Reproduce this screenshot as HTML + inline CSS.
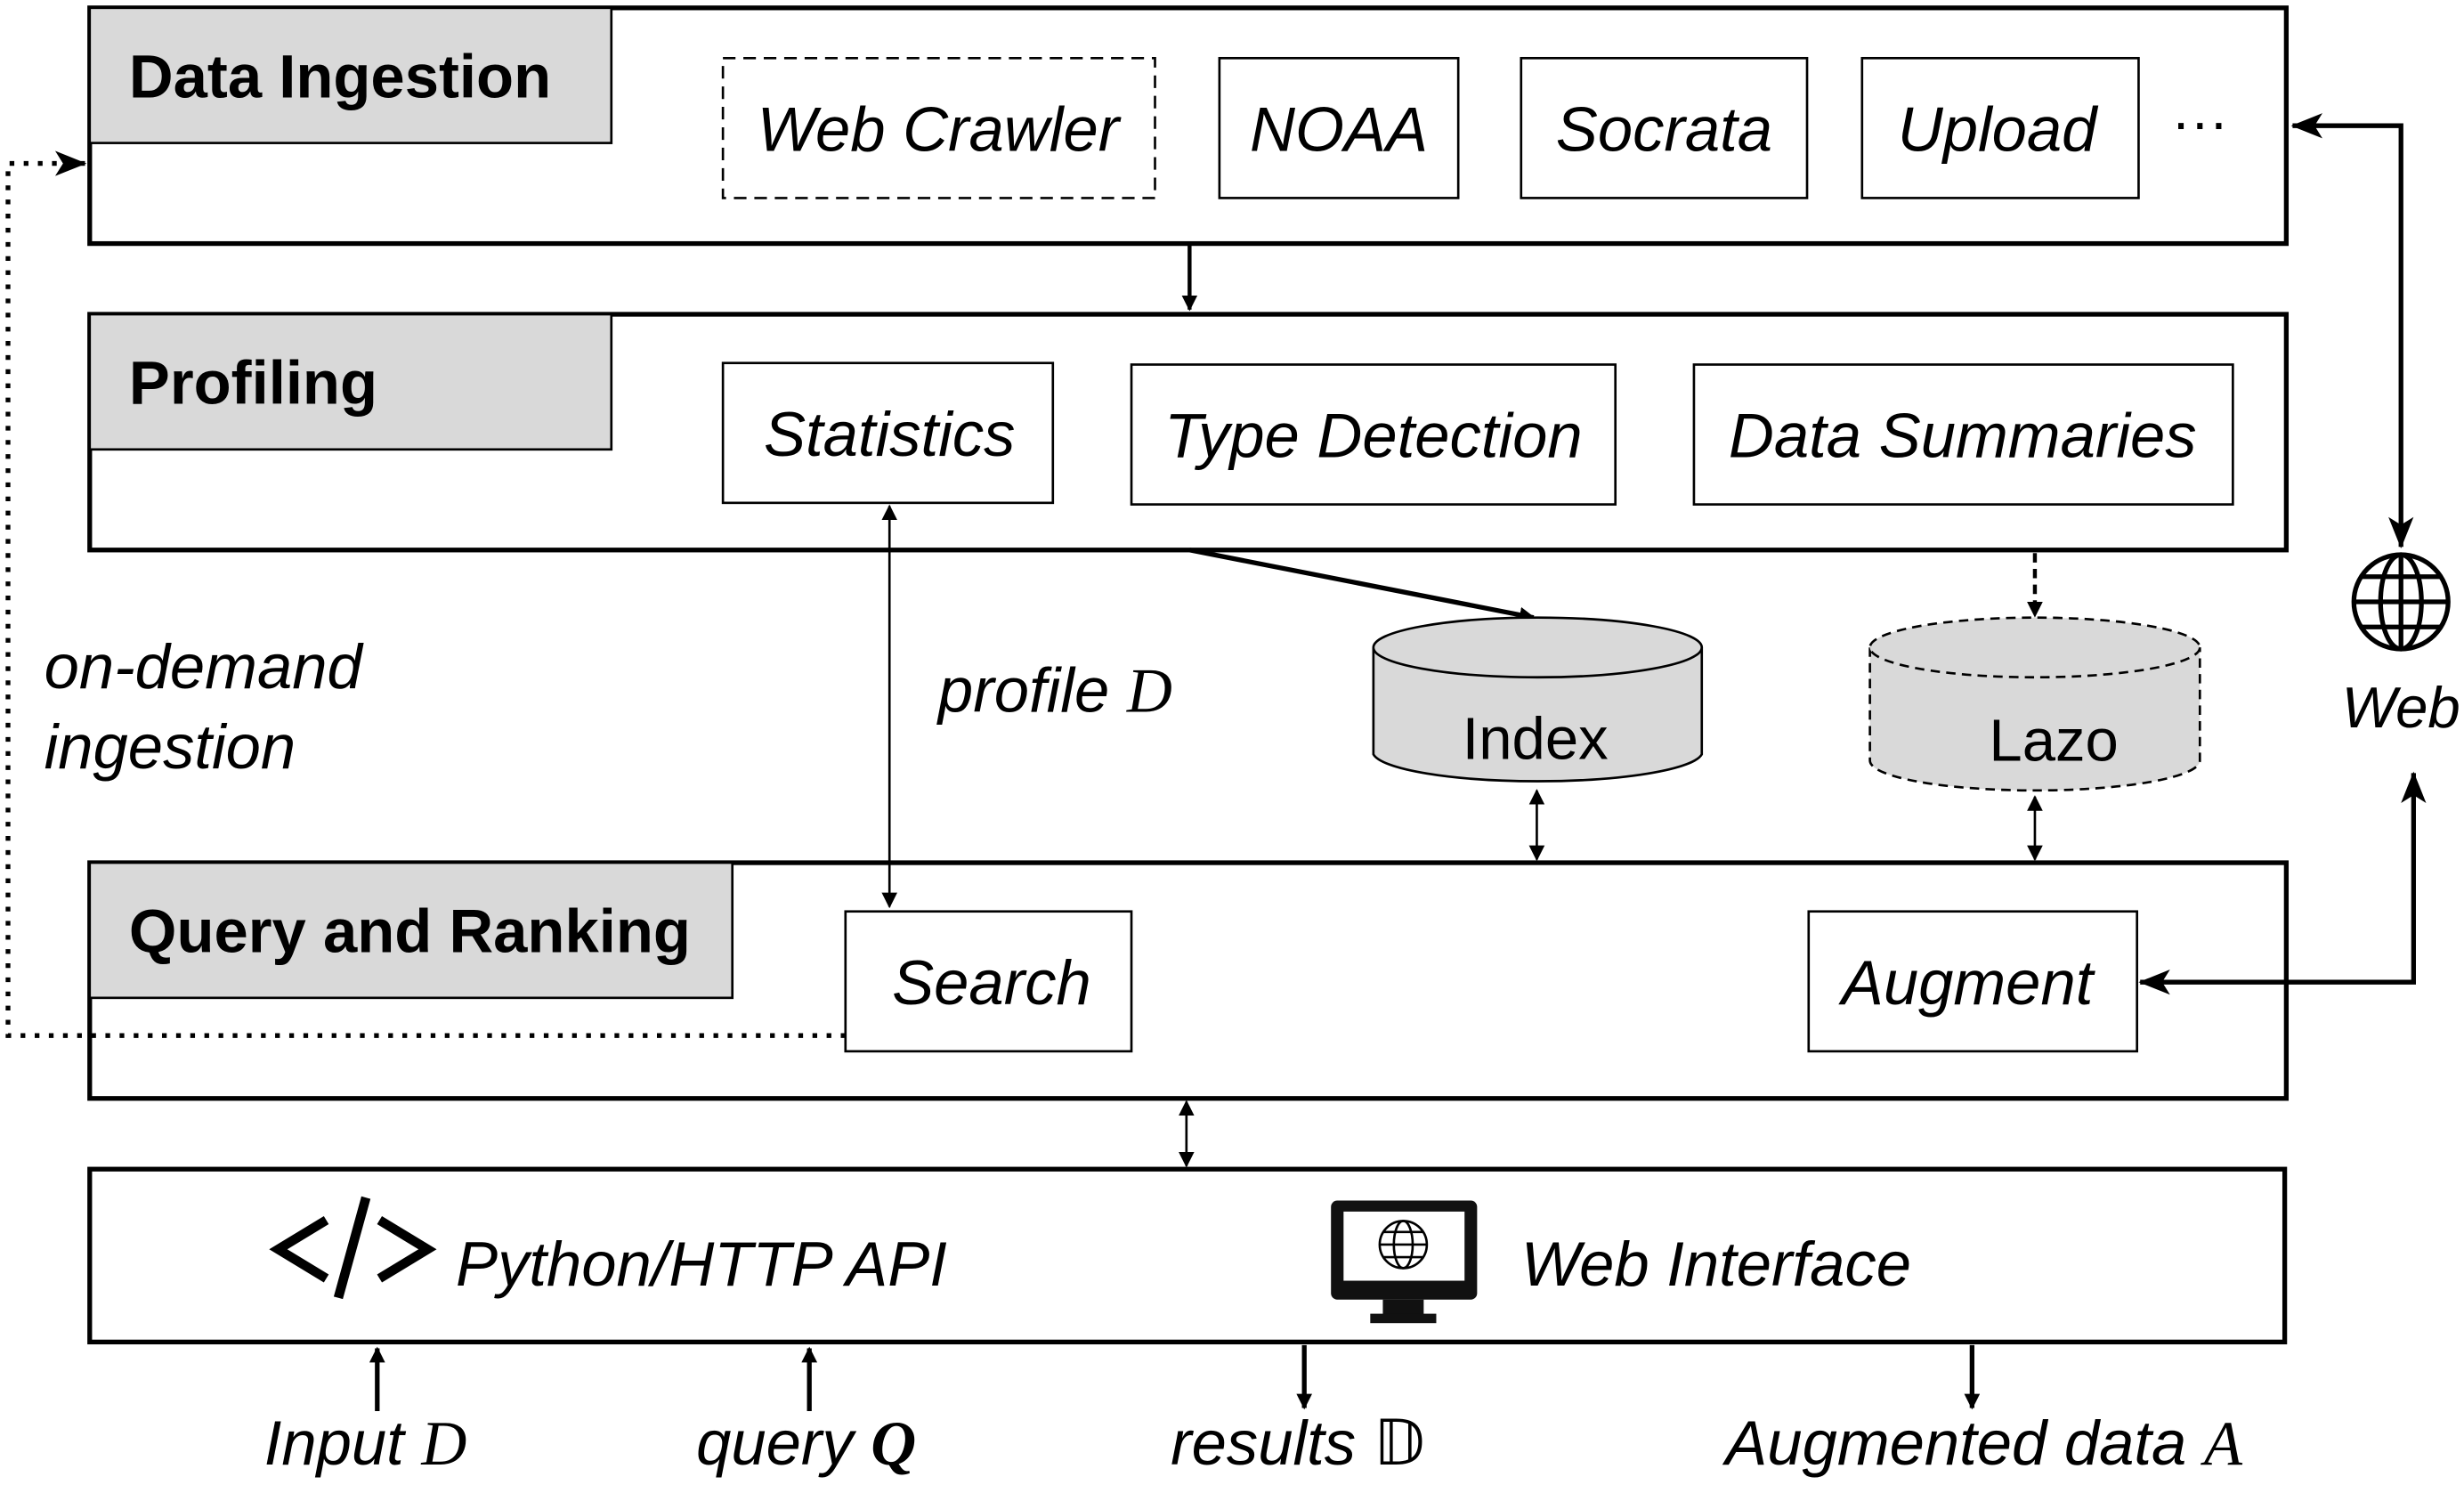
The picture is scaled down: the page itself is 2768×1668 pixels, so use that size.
<!DOCTYPE html>
<html><head><meta charset="utf-8"><style>html,body{margin:0;padding:0;background:#fff}svg{display:block}</style></head><body>
<svg width="2768" height="1668" viewBox="0 0 1568 945" xmlns="http://www.w3.org/2000/svg" font-family="Liberation Sans, sans-serif">
<defs>
<marker id="a" markerWidth="10" markerHeight="10" refX="9" refY="5" orient="auto-start-reverse" markerUnits="userSpaceOnUse"><path d="M0,0 L10,5 L0,10 Z" fill="#000"/></marker>
<marker id="al" markerWidth="20" markerHeight="16" refX="19" refY="8" orient="auto-start-reverse" markerUnits="userSpaceOnUse"><path d="M0,0 L20,8 L0,16 L5,8 Z" fill="#000"/></marker>
</defs>
<g fill="none" stroke="#000" stroke-width="3">
<rect x="57" y="5" width="1398" height="150"/>
<rect x="57" y="200" width="1398" height="150"/>
<rect x="57" y="549" width="1398" height="150"/>
<rect x="57" y="744" width="1397" height="110"/>
</g>
<g fill="#d9d9d9" stroke="#000" stroke-width="1.5">
<rect x="57" y="5" width="332" height="86"/>
<rect x="57" y="200" width="332" height="86"/>
<rect x="57" y="549" width="409" height="86"/>
</g>
<g font-weight="bold" font-size="39" fill="#000">
<text x="82" y="62">Data Ingestion</text>
<text x="82" y="257">Profiling</text>
<text x="82" y="606">Query and Ranking</text>
</g>
<g fill="#fff" stroke="#000" stroke-width="1.5">
<rect x="460" y="37" width="275" height="89" stroke-dasharray="8,5"/>
<rect x="776" y="37" width="152" height="89"/>
<rect x="968" y="37" width="182" height="89"/>
<rect x="1185" y="37" width="176" height="89"/>
<rect x="460" y="231" width="210" height="89"/>
<rect x="720" y="232" width="308" height="89"/>
<rect x="1078" y="232" width="343" height="89"/>
<rect x="538" y="580" width="182" height="89"/>
<rect x="1151" y="580" width="209" height="89"/>
</g>
<g font-style="italic" font-size="40" text-anchor="middle" fill="#000">
<text x="597" y="96">Web Crawler</text>
<text x="852" y="96">NOAA</text>
<text x="1059" y="96">Socrata</text>
<text x="1271" y="96">Upload</text>
<text x="566" y="290">Statistics</text>
<text x="874" y="291">Type Detection</text>
<text x="1249" y="291">Data Summaries</text>
<text x="631" y="639">Search</text>
<text x="1252" y="639">Augment</text>
</g>
<text x="1400" y="90" font-size="36" text-anchor="middle">···</text>
<g stroke="#000" fill="none">
<line x1="757" y1="155" x2="757" y2="197" stroke-width="2.5" marker-end="url(#a)"/>
<line x1="757" y1="350" x2="976" y2="393" stroke-width="3" marker-end="url(#a)"/>
<line x1="1295" y1="352" x2="1295" y2="392" stroke-width="2.5" stroke-dasharray="6,4" marker-end="url(#a)"/>
<line x1="566" y1="322" x2="566" y2="577" stroke-width="1.5" marker-start="url(#a)" marker-end="url(#a)"/>
<line x1="978" y1="503" x2="978" y2="547" stroke-width="1.5" marker-start="url(#a)" marker-end="url(#a)"/>
<line x1="1295" y1="507" x2="1295" y2="547" stroke-width="1.5" marker-start="url(#a)" marker-end="url(#a)"/>
<line x1="755" y1="701" x2="755" y2="742" stroke-width="1.5" marker-start="url(#a)" marker-end="url(#a)"/>
<polyline points="538,659 5,659 5,104 54,104" stroke-width="3" stroke-dasharray="3,6" marker-end="url(#al)"/>
<polyline points="1459,80 1528,80 1528,348" stroke-width="3" marker-start="url(#al)" marker-end="url(#al)"/>
<polyline points="1362,625 1536,625 1536,492" stroke-width="3" marker-start="url(#al)" marker-end="url(#al)"/>
<line x1="240" y1="898" x2="240" y2="858" stroke-width="3" marker-end="url(#a)"/>
<line x1="515" y1="898" x2="515" y2="858" stroke-width="3" marker-end="url(#a)"/>
<line x1="830" y1="856" x2="830" y2="896" stroke-width="3" marker-end="url(#a)"/>
<line x1="1255" y1="856" x2="1255" y2="896" stroke-width="3" marker-end="url(#a)"/>
</g>
<g stroke="#000" stroke-width="1.5" fill="#d9d9d9">
<path d="M874,412 L874,480 A105,19 0 0 0 1083,480 L1083,412"/>
<ellipse cx="978.5" cy="412" rx="104.5" ry="19"/>
<g stroke-dasharray="6,4">
<path d="M1190,412 L1190,484 A105,19 0 0 0 1400,484 L1400,412"/>
<ellipse cx="1295" cy="412" rx="105" ry="19"/>
</g>
</g>
<text x="977" y="483" font-size="38" text-anchor="middle">Index</text>
<text x="1307" y="484" font-size="38" text-anchor="middle">Lazo</text>
<g font-style="italic" font-size="40" fill="#000">
<text x="597" y="453">profile <tspan font-family="Liberation Serif, serif">D</tspan></text>
<text x="28" y="438">on-demand</text>
<text x="28" y="489">ingestion</text>
<text x="1528" y="463" text-anchor="middle" font-size="37">Web</text>
<text x="290" y="818">Python/HTTP API</text>
<text x="968" y="818">Web Interface</text>
<text x="168" y="932">Input <tspan font-family="Liberation Serif, serif">D</tspan></text>
<text x="443" y="932">query <tspan font-family="Liberation Serif, serif" font-weight="bold">Q</tspan></text>
<text x="745" y="932">results <tspan font-family="DejaVu Sans, serif" font-style="normal">𝔻</tspan></text>
<text x="1098" y="932">Augmented data <tspan font-family="Liberation Serif, serif">A</tspan></text>
</g>
<g stroke="#000" stroke-width="3" fill="none">
<circle cx="1528" cy="383" r="30"/>
<ellipse cx="1528" cy="383" rx="13" ry="30"/>
<line x1="1528" y1="353" x2="1528" y2="413"/>
<line x1="1498" y1="383" x2="1558" y2="383"/>
<path d="M1503,367 H1553 M1503,399 H1553"/>
</g>
<g stroke="#000" stroke-width="6" fill="none" stroke-linecap="square">
<polyline points="205,778 177,795 205,812"/>
<polyline points="244,778 272,795 244,812"/>
<line x1="232" y1="765" x2="216" y2="823"/>
</g>
<rect x="847" y="764" width="93" height="63" rx="4" fill="#111"/>
<rect x="855" y="771" width="77" height="44" fill="#fff"/>
<rect x="880" y="827" width="26" height="10" fill="#111"/>
<rect x="872" y="836" width="42" height="6" fill="#111"/>
<g stroke="#000" stroke-width="1.5" fill="none">
<circle cx="893" cy="792" r="15"/>
<ellipse cx="893" cy="792" rx="6" ry="15"/>
<line x1="878" y1="792" x2="908" y2="792"/>
<path d="M880,784 H906 M880,800 H906"/>
</g>
</svg>
</body></html>
